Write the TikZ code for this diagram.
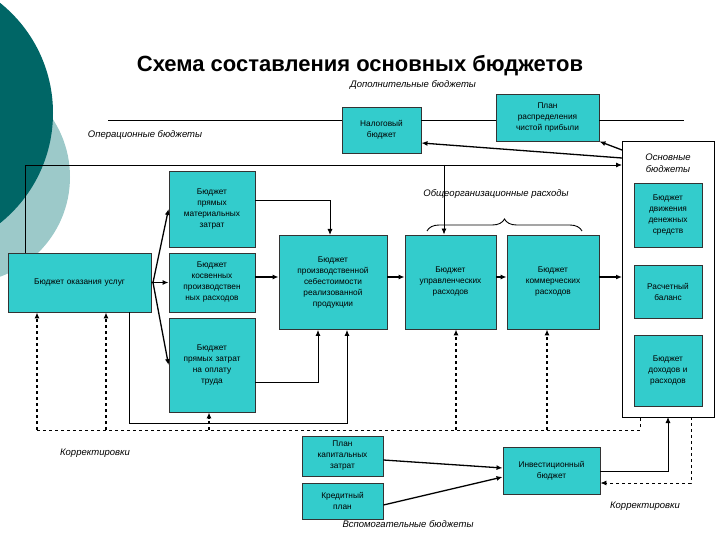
\documentclass[tikz,border=0pt]{standalone}
\usepackage{fontspec}
\setmainfont{Liberation Sans}
\usetikzlibrary{decorations.pathreplacing,arrows.meta}
\definecolor{tq}{HTML}{33CCCC}
\definecolor{dk}{HTML}{006666}
\definecolor{lt}{HTML}{9CC9C9}
\begin{document}
\begin{tikzpicture}[x=1pt,y=-1pt,line width=0.9pt,
 box/.style={draw=black!80,fill=tq,align=center,inner sep=1pt,font=\fontsize{8.3}{11}\selectfont,text width=#1},
 box/.default=80pt,
 lab/.style={font=\itshape\fontsize{9.5}{11.5}\selectfont},
 arr/.style={-{Latex[length=6pt,width=5pt]},line width=1.3pt},
 dsh/.style={dashed,line width=1.3pt},
 ln/.style={draw=black}]
\useasboundingbox (0,0) rectangle (720,540);
\fill[lt] (-36,177) circle (106);
\fill[dk] (-88,113) circle (141);
\node[font=\bfseries\fontsize{22}{24}\selectfont] (title) at (360,66) {Схема составления основных бюджетов};
\node[lab] (dop) at (413,85) {Дополнительные бюджеты};
\node[lab] (oper) at (145,135) {Операционные бюджеты};
\node[lab] (obsch) at (496,194) {Общеорганизационные расходы};
\node[lab] (kor1) at (95,453) {Корректировки};
\node[lab] (kor2) at (645,506) {Корректировки};
\node[lab] (vsp) at (408,524) {Вспомогательные бюджеты};
% boxes
\node[box=75pt,minimum width=79pt,minimum height=46pt] (nal) at (381.5,130) {Налоговый\\бюджет};
\node[box=98pt,minimum width=103pt,minimum height=47pt] (pr) at (547.5,117.5) {План\\распределения\\чистой прибыли};
\draw (622,141) rectangle (714,417);
\coordinate (osn) at (668,141);
\node[lab,align=center] (osnt) at (668,163) {Основные\\бюджеты};
\node[box=64pt,minimum width=68pt,minimum height=64pt] (dds) at (668,215) {Бюджет\\движения\\денежных\\средств};
\node[box=64pt,minimum width=68pt,minimum height=53pt] (bal) at (668,291.5) {Расчетный\\баланс};
\node[box=64pt,minimum width=68pt,minimum height=71pt] (doh) at (668,370.5) {Бюджет\\доходов и\\расходов};
\node[box=140pt,minimum width=143pt,minimum height=59pt] (usl) at (79.5,282.5) {Бюджет оказания услуг};
\node[box=82pt,minimum width=86pt,minimum height=76pt] (mat) at (212,209) {Бюджет\\прямых\\материальных\\затрат};
\node[box=82pt,minimum width=86pt,minimum height=59pt] (kos) at (212,282.5) {Бюджет\\косвенных\\производствен\\ных расходов};
\node[box=82pt,minimum width=86pt,minimum height=94pt] (trd) at (212,365) {Бюджет\\прямых затрат\\на оплату\\труда};
\node[box=104pt,minimum width=108pt,minimum height=94pt,anchor=north] (seb) at (333,235) {Бюджет\\производственной\\себестоимости\\реализованной\\продукции\\[14pt]};
\node[box=88pt,minimum width=91pt,minimum height=94pt] (upr) at (450.5,282) {Бюджет\\управленческих\\расходов\\[8pt]};
\node[box=88pt,minimum width=92pt,minimum height=94pt] (kom) at (553,282) {Бюджет\\коммерческих\\расходов\\[8pt]};
\node[box=77pt,minimum width=81pt,minimum height=40pt] (kap) at (342.5,456) {План\\капитальных\\затрат};
\node[box=77pt,minimum width=81pt,minimum height=36pt] (kre) at (342.5,501) {Кредитный\\план};
\node[box=93pt,minimum width=97pt,minimum height=47pt] (inv) at (551.5,470.5) {Инвестиционный\\бюджет};
% top lines
\draw (108,120) -- (nal.west|-0,120);
\draw (nal.east|-0,120) -- (pr.west|-0,120);
\draw (pr.east|-0,120) -- (684,120);
\draw[arr,line width=0.9pt] (usl.north-|25,0) -- (25,165) -- (622,165);
\draw[arr,line width=0.9pt] (444,165) -- (upr.north-|444,0);
\draw[arr] (622,158) -- (nal.east|-0,143);
\draw[arr] (622,150) -- (pr.south east);
\draw[decorate,decoration={brace,amplitude=12pt}] (427,231) -- (582,231);
% fan
\coordinate (f) at (153,282.5);
\draw[arr] (usl.east) -- (f) -- (mat.west);
\draw[arr] (f) -- (kos.west);
\draw[arr] (f) -- (trd.west);
\draw[arr,line width=0.9pt] (mat.east|-0,200) -- (330,200) -- (seb.north-|330,0);
\draw[arr] (kos.east|-0,277) -- (seb.west|-0,277);
\draw[arr,line width=0.9pt] (trd.east|-0,382) -- (318,382) -- (seb.south-|318,0);
\draw[arr,line width=0.9pt] (usl.south-|129,0) -- (129,423) -- (347,423) -- (seb.south-|347,0);
\draw[arr] (seb.east|-0,277) -- (upr.west|-0,277);
\draw[arr] (upr.east|-0,277) -- (kom.west|-0,277);
\draw[arr] (kom.east|-0,277) -- (622,277);
% dashed
\draw[dashed,line width=0.9pt] (37,430) -- (640,430) -- (640,417);
\draw[dsh,arr] (37,430) -- (usl.south-|37,0);
\draw[dsh,arr] (106,430) -- (usl.south-|106,0);
\draw[dsh,arr] (209,430) -- (trd.south-|209,0);
\draw[dsh,arr] (456,430) -- (upr.south-|456,0);
\draw[dsh,arr] (547,430) -- (kom.south-|547,0);
\draw[dashed,arr,line width=0.9pt] (691,417) -- (691,483) -- (inv.east|-0,483);
\draw[arr,line width=0.9pt] (inv.east|-0,471) -- (668,471) -- (668,417);
\draw[arr] (kap.east|-0,460) -- (inv.west|-0,468);
\draw[arr] (kre.east|-0,505) -- (inv.west|-0,477);
\end{tikzpicture}
\end{document}
